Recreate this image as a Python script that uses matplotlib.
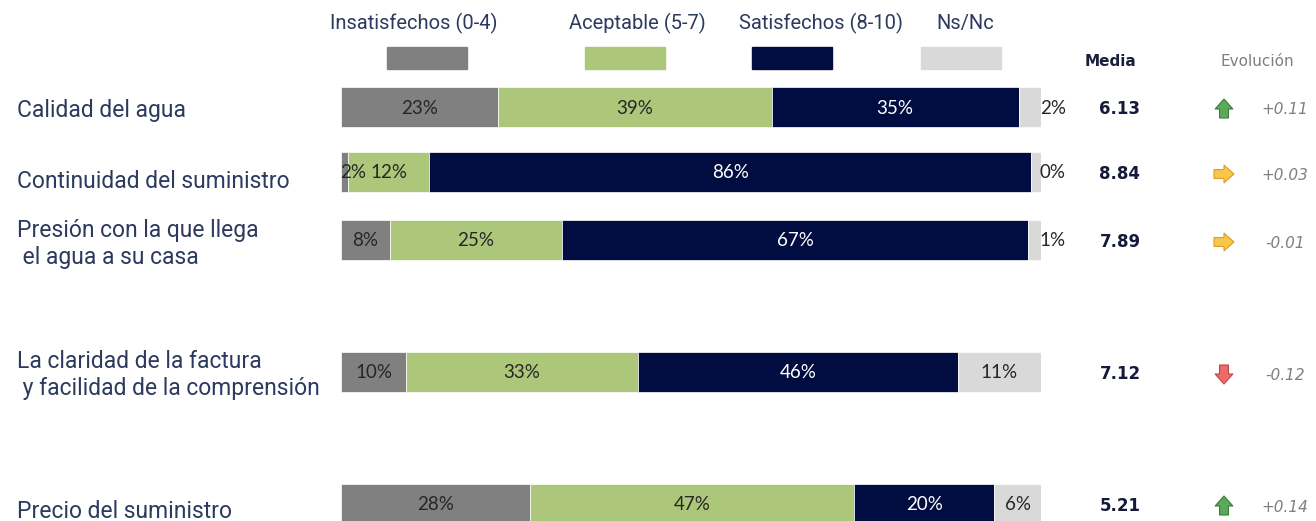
import matplotlib.pyplot as plt
from matplotlib.patches import Rectangle
from matplotlib.transforms import blended_transform_factory

categorias = ["Calidad del agua", "Continuidad del suministro",
              "Presión con la que llega\n el agua a su casa",
              "La claridad de la factura\n y facilidad de la comprensión",
              "Precio del suministro"]
# anchura de cada tramo (%), estimada de la imagen
insatisfechos = [22.4, 1.0, 7.0, 9.3, 27.0]
aceptable = [39.1, 11.6, 24.6, 33.1, 46.3]
satisfechos = [35.3, 86.0, 66.5, 45.7, 20.0]
nsnc = [3.2, 1.4, 1.9, 11.9, 6.7]
# porcentajes que muestra el grafico
etq_insatisfechos = [23, 2, 8, 10, 28]
etq_aceptable = [39, 12, 25, 33, 47]
etq_satisfechos = [35, 86, 67, 46, 20]
etq_nsnc = [2, 0, 1, 11, 6]
media = [6.13, 8.84, 7.89, 7.12, 5.21]
evolucion = [0.11, 0.03, -0.01, -0.12, 0.14]
tendencia = ["up", "right", "right", "down", "up"]
series = ["Insatisfechos (0-4)", "Aceptable (5-7)", "Satisfechos (8-10)", "Ns/Nc"]

colores = ["#808080", "#adc77a", "#010d40", "#d9d9d9"]
color_txt = ["#262626", "#262626", "white", "#262626"]
W, H = 1316, 521
pos_y = [107, 172, 240, 372, 504]      # centro de cada barra (px)
pos_lbl = [110, 182, 244, 375, 511]    # centro de las etiquetas de categoria

fig = plt.figure(figsize=(W / 100, H / 100), dpi=100)
ax = fig.add_axes([341 / W, 0, 700 / W, 1])
ax.set_xlim(0, 100)
ax.set_ylim(H, 0)
ax.axis("off")
tr = blended_transform_factory(fig.transFigure, ax.transData)

datos = [insatisfechos, aceptable, satisfechos, nsnc]
etiquetas = [etq_insatisfechos, etq_aceptable, etq_satisfechos, etq_nsnc]
izq = [0] * len(categorias)
for k, serie in enumerate(datos):
    ax.barh(pos_y, serie, left=izq, height=40, color=colores[k],
            edgecolor="white", linewidth=0.5)
    for i, v in enumerate(serie):
        txt = f"{etiquetas[k][i]}%"
        if k == 3 and v < 5:
            x = izq[i] + v + 1.7
        elif k == 0 and v < 2:
            x = izq[i] + 1.8
        else:
            x = izq[i] + v / 2
        ax.text(x, pos_y[i] + 1, txt, ha="center", va="center",
                fontsize=13.5, family="Lato", color=color_txt[k] if x < 100 else "#262626")
    izq = [a + b for a, b in zip(izq, serie)]

# etiquetas de categoria
for i, c in enumerate(categorias):
    ax.text(17 / W, pos_lbl[i], c, transform=tr, ha="left", va="center",
            fontsize=16.5, family="Roboto", color="#2c3a5e", linespacing=1.2)

# leyenda
leg_x = [387, 585, 752, 921]
leg_txt_x = [414, 637, 821, 965]
for k, nombre in enumerate(series):
    fig.patches.append(Rectangle((leg_x[k] / W, 1 - 69 / H), 80 / W, 22 / H,
                                 transform=fig.transFigure, color=colores[k]))
    fig.text(leg_txt_x[k] / W, 1 - 23 / H, nombre, ha="center", va="center",
             fontsize=14.5, family="Roboto", color="#2c3a5e")

# media y evolucion
fig.text(1111 / W, 1 - 62 / H, "Media", ha="center", va="center",
         fontsize=11, fontweight="bold", family="DejaVu Sans", color="#1a1f3c")
fig.text(1257 / W, 1 - 62 / H, "Evolución", ha="center", va="center",
         fontsize=11, family="DejaVu Sans", color="#7f7f7f")

flechas = {
    "up": ((0, 9), (0, -10), "#5aaa5a", "#3b7d3b"),
    "down": ((0, -9), (0, 10), "#f06a6a", "#c04545"),
    "right": ((-10, 0), (10, 0), "#f7c84a", "#e09a25"),
}
for i in range(len(categorias)):
    ax.text(1120 / W, pos_y[i] + 2, f"{media[i]:.2f}", transform=tr,
            ha="center", va="center", fontsize=12, fontweight="bold",
            family="DejaVu Sans", color="#141a3a")
    ax.text(1285 / W, pos_y[i] + 3, f"{evolucion[i]:+.2f}", transform=tr,
            ha="center", va="center", fontsize=11, style="italic",
            family="DejaVu Sans", color="#7f7f7f")
    (dx0, dy0), (dx1, dy1), fc, ec = flechas[tendencia[i]]
    xa = 1224
    ax.annotate("", xy=((xa + dx1) / W, pos_y[i] + 2 + dy1),
                xytext=((xa + dx0) / W, pos_y[i] + 2 + dy0),
                xycoords=tr, textcoords=tr,
                arrowprops=dict(arrowstyle="simple,head_length=0.9,head_width=1.6,tail_width=0.8",
                                fc=fc, ec=ec, lw=0.8, shrinkA=0, shrinkB=0,
                                mutation_scale=8))

fig.savefig("out.png", dpi=100)
